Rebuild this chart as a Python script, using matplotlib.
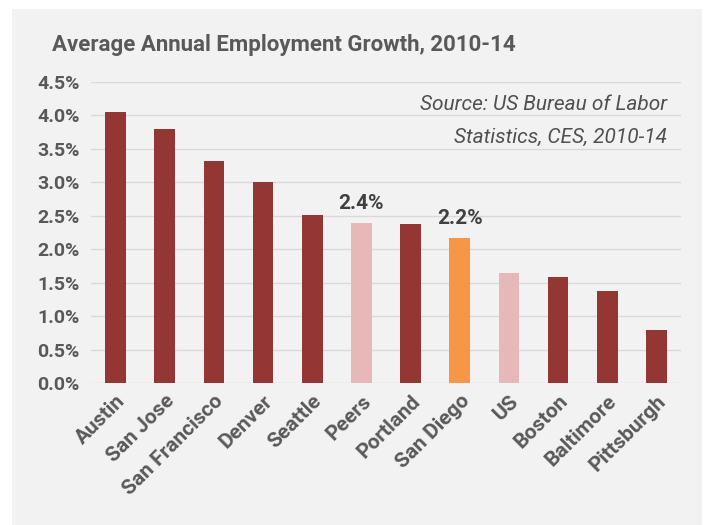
#!/usr/bin/env python3
"""Average annual employment growth bar chart, 2010-14."""

import matplotlib

matplotlib.use("Agg")
import matplotlib.pyplot as plt
from matplotlib.patches import Rectangle
import numpy as np

metros = ["Austin", "San Jose", "San Francisco", "Denver", "Seattle", "Peers",
          "Portland", "San Diego", "US", "Boston", "Baltimore", "Pittsburgh"]
growth = [4.05, 3.80, 3.31, 3.00, 2.51, 2.39, 2.37, 2.17, 1.64, 1.58, 1.37, 0.79]
kinds = ["metro", "metro", "metro", "metro", "metro", "bench",
         "metro", "focus", "bench", "metro", "metro", "metro"]
labelled = {"Peers": "2.4%", "San Diego": "2.2%"}
yticks = [0.0, 0.5, 1.0, 1.5, 2.0, 2.5, 3.0, 3.5, 4.0, 4.5]

COLORS = {"metro": "#943634", "bench": "#e6b9b8", "focus": "#f79646"}
TEXT = "#595959"
FONT = ["Roboto", "DejaVu Sans"]

plt.rcParams["font.family"] = FONT

fig = plt.figure(figsize=(7.04, 5.25), dpi=100, facecolor="white")
fig.patches.append(Rectangle((12 / 704, 0), 690 / 704, 1 - 9 / 525,
                             transform=fig.transFigure, facecolor="#f2f2f2",
                             edgecolor="none", zorder=-5))

ax = fig.add_axes([91 / 704, 1 - 383 / 525, 590 / 704, (383 - 81.7) / 525])
ax.set_facecolor("none")

x = np.arange(len(metros))
ax.bar(x, growth, width=0.42, color=[COLORS[k] for k in kinds], zorder=3)

for xi, name, val in zip(x, metros, growth):
    if name in labelled:
        ax.annotate(labelled[name], (xi, val), xytext=(0, 7), textcoords="offset points",
                    ha="center", va="bottom", fontsize=15, fontweight="bold", color="#404040")

ax.set_xlim(-0.5, len(metros) - 0.5)
ax.set_ylim(0, 4.5)
ax.set_yticks(yticks)
ax.set_yticklabels([f"{t:.1f}%" for t in yticks], fontsize=14, fontweight="bold", color=TEXT)
ax.set_xticks(x)
ax.set_xticklabels(metros, rotation=45, ha="right", rotation_mode="anchor",
                   fontsize=15, fontweight="bold", color=TEXT)
ax.tick_params(length=0, pad=8)
ax.tick_params(axis="x", pad=6)
ax.grid(axis="y", color="#d9d9d9", linewidth=1, zorder=0)
for spine in ax.spines.values():
    spine.set_visible(False)

fig.text(52 / 704, 1 - 45 / 525, "Average Annual Employment Growth, 2010-14",
         fontsize=16, fontweight="bold", color=TEXT, va="center", ha="left")
fig.text(667 / 704, 1 - 104 / 525, "Source: US Bureau of Labor",
         fontsize=15, fontstyle="italic", color="#505050", va="center", ha="right")
fig.text(667 / 704, 1 - 137 / 525, "Statistics, CES, 2010-14",
         fontsize=15, fontstyle="italic", color="#505050", va="center", ha="right")

fig.savefig("out.png", dpi=100, facecolor="white")
